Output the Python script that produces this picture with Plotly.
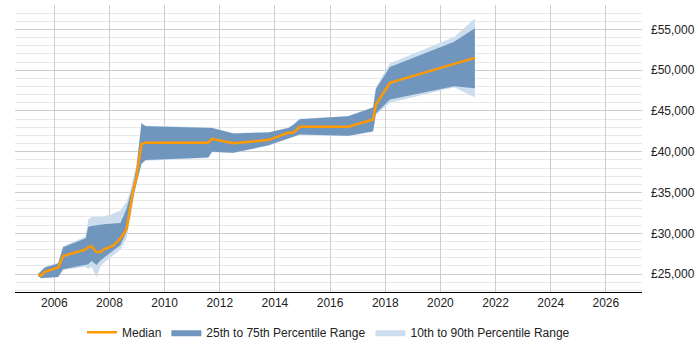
import plotly.graph_objects as go

years = [2005.41, 2005.53, 2005.66, 2006.14, 2006.32, 2007.14, 2007.23, 2007.35, 2007.53, 2007.68,
         2007.80, 2008.13, 2008.40, 2008.62, 2008.74, 2008.86, 2008.98, 2009.16, 2009.31, 2011.58,
         2011.72, 2012.49, 2013.76, 2014.48, 2014.66, 2014.90, 2016.66, 2017.56, 2017.66, 2018.17,
         2020.50, 2021.25]
p10 = [24700, 24500, 24500, 24600, 25500, 25900, 25600, 25900, 24600, 26000,
       26400, 27300, 28000, 29380, 31500, 34000, 36000, 38400, 38900, 39250,
       39950, 39850, 40750, 41600, 41800, 42100, 41900, 42450, 44500, 46000,
       47900, 46660]
p25 = [24750, 24500, 24550, 24650, 25600, 26100, 26200, 26600, 26100, 26700,
       27000, 27800, 28550, 30190, 32000, 34500, 36200, 38570, 38980, 39310,
       39990, 39870, 40800, 41630, 41830, 42130, 41950, 42530, 44700, 46420,
       48050, 47800]
median = [25000, 24800, 25280, 25800, 27200, 28030, 28300, 28400, 27700, 27700,
          28030, 28470, 29380, 30500, 32850, 35300, 36930, 40940, 41100, 41100,
          41590, 41050, 41430, 42320, 42320, 43060, 43060, 43960, 45800, 48450,
          50780, 51520]
p75 = [25000, 25400, 25800, 26300, 28300, 29400, 30800, 30900, 31000, 31000,
       31100, 31200, 31250, 33000, 34500, 36000, 38000, 43470, 43140, 42980,
       42900, 42250, 42370, 42900, 43270, 44000, 44370, 45440, 47700, 50410,
       53500, 55150]
p90 = [25050, 25500, 25900, 26400, 28400, 29600, 31700, 32000, 32000, 32000,
       32100, 32400, 32800, 33900, 35000, 36800, 38500, 43600, 43200, 43000,
       42950, 42300, 42400, 42950, 43300, 44050, 44400, 45500, 47900, 50850,
       54090, 56350]

x_ticks = list(range(2006, 2027, 2))

DARK = "#7096BE"
LIGHT = "#CCDDEE"
ORANGE = "#FF9900"

fig = go.Figure()
fig.add_trace(go.Scatter(x=years, y=p90, mode="lines", line=dict(width=0, color=LIGHT),
                         showlegend=False, hoverinfo="skip"))
fig.add_trace(go.Scatter(x=years, y=p10, mode="lines", line=dict(width=0, color=LIGHT),
                         fill="tonexty", fillcolor=LIGHT,
                         name="10th to 90th Percentile Range", legendrank=3))
fig.add_trace(go.Scatter(x=years, y=p75, mode="lines", line=dict(width=0, color=DARK),
                         showlegend=False, hoverinfo="skip"))
fig.add_trace(go.Scatter(x=years, y=p25, mode="lines", line=dict(width=0, color=DARK),
                         fill="tonexty", fillcolor=DARK,
                         name="25th to 75th Percentile Range", legendrank=2))
fig.add_trace(go.Scatter(x=years, y=median, mode="lines", line=dict(width=2.5, color=ORANGE),
                         name="Median", legendrank=1))

fig.update_layout(
    width=700, height=350,
    margin=dict(l=15, r=58, t=5, b=58, autoexpand=False),
    paper_bgcolor="white", plot_bgcolor="white",
    font=dict(family="Liberation Sans, Arial, sans-serif", size=12, color="#222"),
    legend=dict(orientation="h", x=0.5, xanchor="center", y=-0.09, yanchor="top",
                font=dict(size=12), itemwidth=30, traceorder="normal"),
    xaxis=dict(range=[2004.575, 2027.31], tickmode="array", tickvals=x_ticks,
               ticktext=[str(t) for t in x_ticks],
               showgrid=True, gridcolor="#cccccc", gridwidth=1,
               showline=True, linecolor="#000000", linewidth=1,
               ticks="", zeroline=False, fixedrange=True),
    yaxis=dict(range=[22800, 58000], side="right", dtick=5000, tick0=25000,
               tickprefix="£", tickformat=",d",
               showgrid=True, gridcolor="#cccccc", gridwidth=1,
               minor=dict(dtick=1000, showgrid=True, gridcolor="#e8e8e8", gridwidth=1),
               showline=False, zeroline=False, ticks="", ticklabelstandoff=8),
)

fig.write_html("out.html")
